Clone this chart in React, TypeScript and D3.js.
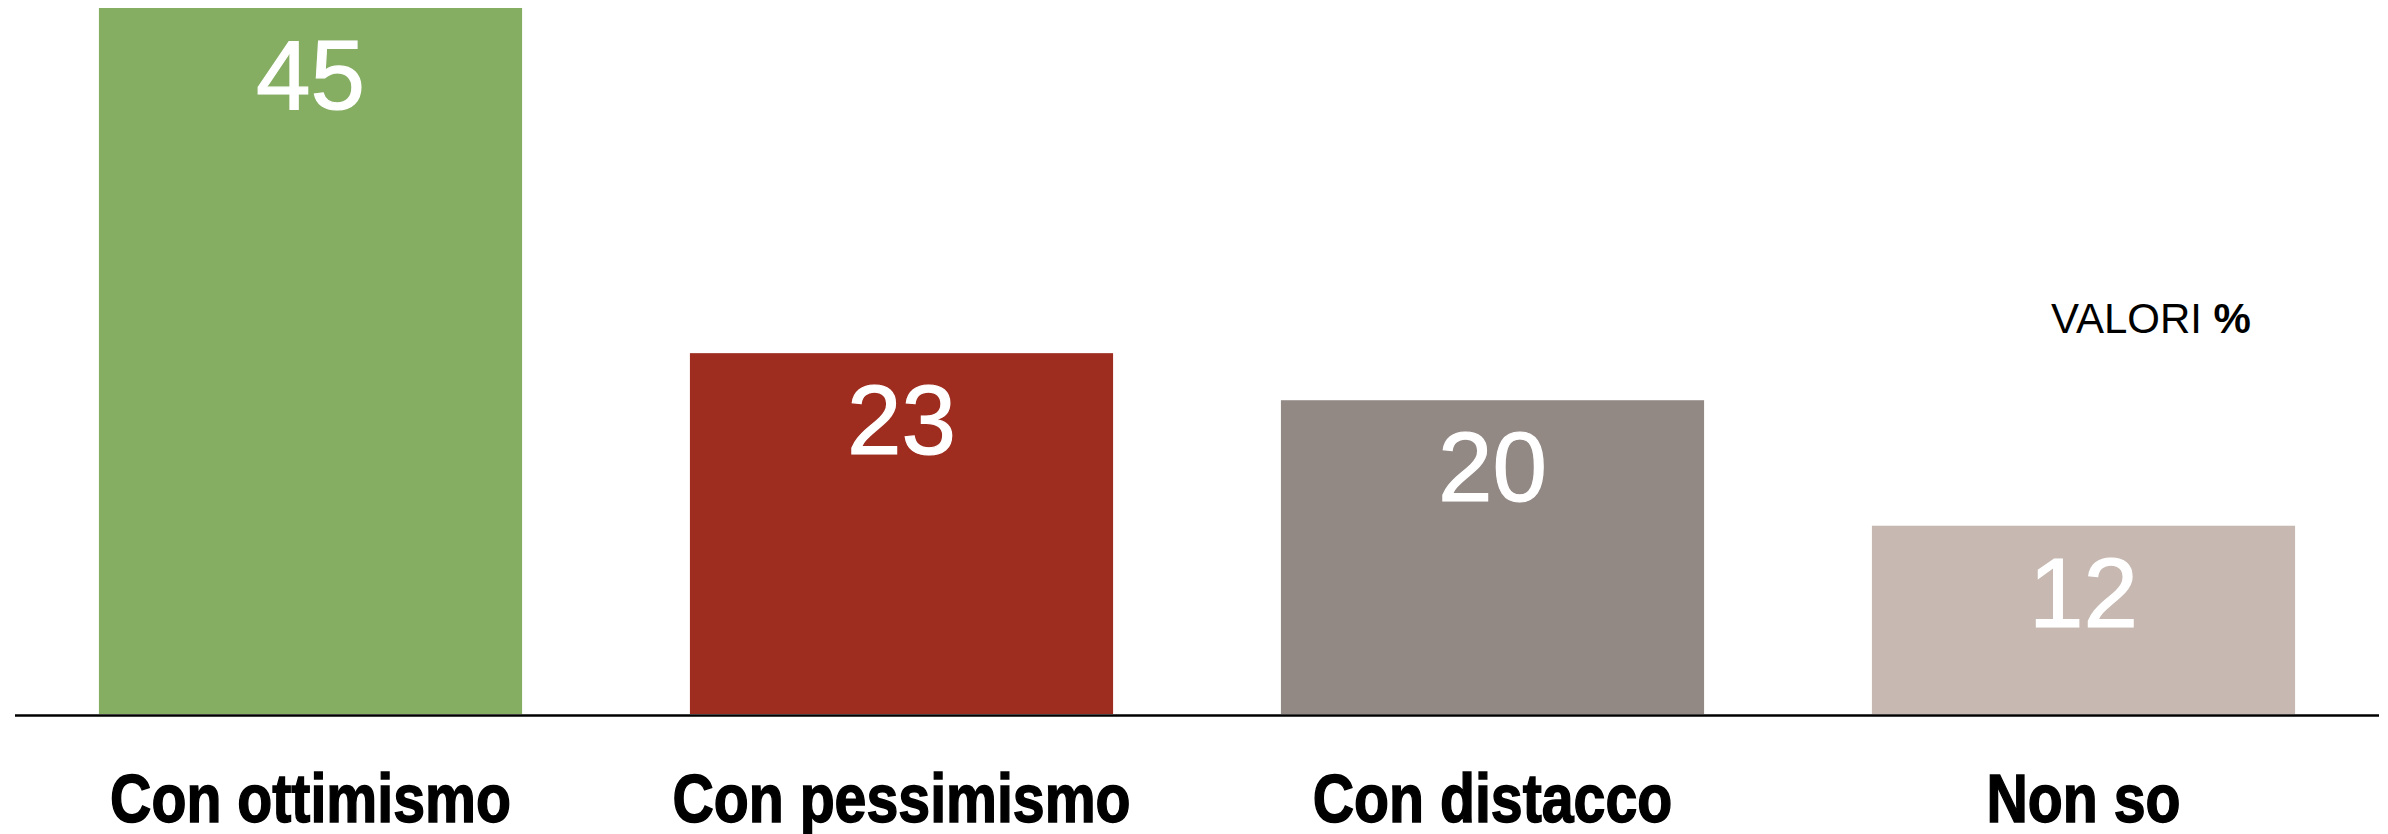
import React from "react";
import * as d3 from "d3";

const categories = ["Con ottimismo", "Con pessimismo", "Con distacco", "Non so"];
const values = [45, 23, 20, 12];
const colors = ["#85AE63", "#9E2D20", "#928884", "#C7B9B1"];
const unitLabel = "VALORI";
const unitSymbol = "%";

const W = 2388;
const H = 834;

export default function App() {
  const x = d3
    .scaleBand<string>()
    .domain(categories)
    .range([15, 2379])
    .paddingInner(0.284)
    .paddingOuter(0.142);
  const y = d3.scaleLinear().domain([0, 45]).range([714, 8]);
  const baseY = y(0);

  return (
    <svg
      width={W}
      height={H}
      viewBox={`0 0 ${W} ${H}`}
      style={{ position: "absolute", left: 0, top: 0, background: "#fff" }}
    >
      {categories.map((c, i) => {
        const bx = x(c)!;
        const bw = x.bandwidth();
        const top = y(values[i]);
        const cx = bx + bw / 2;
        return (
          <g key={c}>
            <rect x={bx} y={top} width={bw} height={baseY - top} fill={colors[i]} />
            <text
              x={cx}
              y={top + 101}
              textAnchor="middle"
              fill="#fff"
              stroke="#fff"
              strokeWidth={1.2}
              fontFamily="'Liberation Sans', Arial, Helvetica, sans-serif"
              fontSize={98}
            >
              {values[i]}
            </text>
            <text
              transform={`translate(${cx},822) scale(0.83,1)`}
              textAnchor="middle"
              fill="#000"
              stroke="#000"
              strokeWidth={1.5}
              fontFamily="'Liberation Sans', Arial, Helvetica, sans-serif"
              fontWeight="bold"
              fontSize={69}
            >
              {c}
            </text>
          </g>
        );
      })}
      <line x1={15} x2={2379} y1={baseY + 1.5} y2={baseY + 1.5} stroke="#000" strokeWidth={2.5} />
      <text
        x={2051}
        y={333}
        fill="#000"
        fontFamily="'Liberation Sans', Arial, Helvetica, sans-serif"
        fontSize={42}
      >
        {unitLabel}{" "}
        <tspan fontWeight="bold">{unitSymbol}</tspan>
      </text>
    </svg>
  );
}
